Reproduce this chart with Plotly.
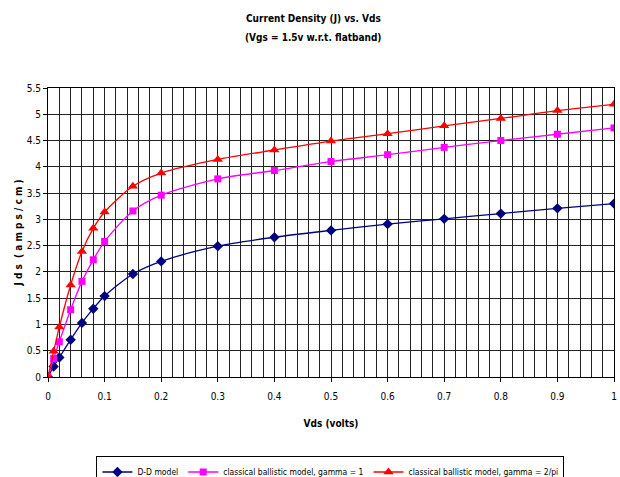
import plotly.graph_objects as go

vds = [0, 0.01, 0.02, 0.04, 0.06, 0.08, 0.1, 0.15, 0.2, 0.3, 0.4, 0.5, 0.6, 0.7, 0.8, 0.9, 1.0]
dd_model = [0, 0.2, 0.37, 0.71, 1.03, 1.3, 1.54, 1.96, 2.2, 2.49, 2.66, 2.79, 2.91, 3.01, 3.11, 3.21, 3.30]
ballistic_g1 = [0, 0.35, 0.67, 1.28, 1.82, 2.23, 2.58, 3.16, 3.46, 3.77, 3.93, 4.1, 4.23, 4.37, 4.5, 4.62, 4.74]
ballistic_g2pi = [0, 0.49, 0.95, 1.75, 2.39, 2.83, 3.14, 3.63, 3.88, 4.14, 4.32, 4.49, 4.63, 4.78, 4.92, 5.07, 5.19]

names = ["D-D model", "classical ballistic model, gamma = 1", "classical ballistic model, gamma = 2/pi"]
colors = ["#000080", "#FF00FF", "#FF0000"]
symbols = ["diamond", "square", "triangle-up"]
msizes = [8, 7, 9]
series = [dd_model, ballistic_g1, ballistic_g2pi]

title_lines = ["Current Density (J) vs. Vds", "(Vgs = 1.5v w.r.t. flatband)"]

FONT = "DejaVu Sans Condensed, Liberation Sans Narrow, Roboto Condensed, Liberation Sans, Arial"

fig = go.Figure()
for name, ys, c, s, ms in zip(names, series, colors, symbols, msizes):
    fig.add_trace(go.Scatter(
        x=vds, y=ys, name=name, mode="lines+markers",
        line=dict(color=c, width=1.3, shape="spline", smoothing=0.8),
        marker=dict(symbol=s, size=ms, color=c),
    ))

for txt, yp in zip(title_lines, [1.242, 1.176]):
    fig.add_annotation(text="<b>" + txt + "</b>", xref="paper", yref="paper",
                       x=0.469, y=yp, xanchor="center", yanchor="middle",
                       showarrow=False, font=dict(family=FONT, size=10, color="black"))

fig.update_layout(
    width=620, height=477,
    paper_bgcolor="white", plot_bgcolor="white",
    margin=dict(l=48, r=6, t=88, b=100, autoexpand=False),
    font=dict(family=FONT, size=10, color="black"),
    showlegend=True,
    legend=dict(
        orientation="h", x=0.499, xanchor="center", y=-0.275, yanchor="top",
        bordercolor="black", borderwidth=1, font=dict(family=FONT, size=8.5),
        tracegroupgap=0, itemwidth=30,
    ),
)

fig.update_xaxes(
    range=[0, 1], tickmode="array", automargin=False,
    tickvals=[0, 0.1, 0.2, 0.3, 0.4, 0.5, 0.6, 0.7, 0.8, 0.9, 1],
    ticktext=["0", "0.1", "0.2", "0.3", "0.4", "0.5", "0.6", "0.7", "0.8", "0.9", "1"],
    ticks="outside", ticklen=4, tickcolor="black", ticklabelstandoff=6,
    showline=True, linecolor="black", linewidth=1, mirror=True,
    showgrid=False, zeroline=False,
    minor=dict(dtick=0.02, showgrid=True, gridcolor="#222222", gridwidth=1),
    title=dict(text="<b>Vds (volts)</b>", font=dict(family=FONT, size=10), standoff=18),
    tickfont=dict(family=FONT, size=10),
)
fig.update_yaxes(
    range=[0, 5.5], tickmode="array", automargin=False,
    tickvals=[0, 0.5, 1, 1.5, 2, 2.5, 3, 3.5, 4, 4.5, 5, 5.5],
    ticktext=["0", "0.5", "1", "1.5", "2", "2.5", "3", "3.5", "4", "4.5", "5", "5.5"],
    ticks="outside", ticklen=4, tickcolor="black",
    showline=True, linecolor="black", linewidth=1, mirror=True,
    showgrid=True, gridcolor="#222222", gridwidth=1, zeroline=False,
    title=dict(text="<b>J d s  ( a m p s / c m )</b>", font=dict(family=FONT, size=10), standoff=2),
    tickfont=dict(family=FONT, size=10),
)

fig.write_html("out.html", config={"displayModeBar": False},
               post_script="document.body.style.margin='0';document.body.style.overflow='hidden';")
